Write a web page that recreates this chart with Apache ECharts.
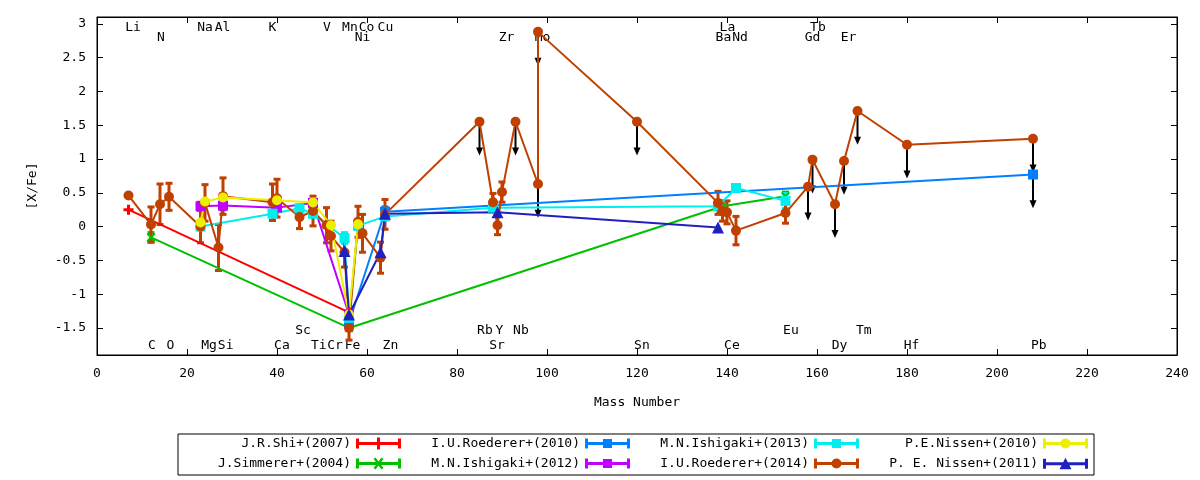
<!DOCTYPE html>
<html>
<head>
<meta charset="utf-8">
<title>[X/Fe] vs Mass Number</title>
<script src="https://cdn.jsdelivr.net/npm/echarts@6/dist/echarts.min.js"></script>
<style>
  html, body { margin: 0; padding: 0; background: #fff; }
  #chart { width: 1200px; height: 480px; }
</style>
</head>
<body>
<div id="chart"></div>
<script>
// values (x = mass number, y = [X/Fe], err = half error bar)
var shiX = [7, 56];
var shiY = [0.25, -1.27];
var shiErr = [0, 0];

var simX = [12, 56, 139, 153];
var simY = [-0.16, -1.50, 0.30, 0.45];
var simErr = [0.07, 0, 0, 0.06];

var r10X = [56, 64, 208];
var r10Y = [-1.42, 0.22, 0.77];
var r10Err = [0, 0.07, 0];
var r10Up = [0, 0, 1];

var i12X = [23, 28, 40, 48, 56];
var i12Y = [0.30, 0.31, 0.28, 0.35, -1.30];
var i12Err = [0.06, 0.06, 0.04, 0.05, 0];

var i13X = [23, 39, 45, 48, 55, 56, 58, 64, 88, 138, 142, 153];
var i13Y = [0.0, 0.19, 0.27, 0.19, -0.17, -1.35, 0.01, 0.15, 0.28, 0.30, 0.57, 0.38];
var i13Err = [0.05, 0, 0.05, 0.05, 0.08, 0, 0, 0.05, 0.03, 0.05, 0.05, 0.11];

var r14X = [7, 12, 14, 16, 23, 24, 27, 28, 39, 40, 45, 48, 51, 52, 55, 56, 58, 59, 63, 64,
            85, 88, 89, 90, 93, 98, 98, 120, 138, 139, 140, 142, 153, 158, 159, 164, 166, 169, 180, 208];
var r14Y = [0.46, 0.03, 0.33, 0.44, 0.0, 0.35, -0.31, 0.45, 0.36, 0.42, 0.14, 0.23, 0.02, -0.14, -0.38, -1.50, 0.07, -0.10, -0.46, 0.18,
            1.55, 0.36, 0.02, 0.51, 1.55, 0.63, 2.88, 1.55, 0.35, 0.23, 0.21, -0.06, 0.20, 0.59, 0.99, 0.33, 0.97, 1.71, 1.21, 1.30];
var r14Err = [0, 0.26, 0.30, 0.20, 0.24, 0.27, 0.34, 0.27, 0.27, 0.28, 0.17, 0.22, 0.26, 0.22, 0.22, 0.18, 0.23, 0.28, 0.23, 0.22,
              0, 0.13, 0.14, 0.15, 0, 0, 0, 0, 0.17, 0.15, 0.17, 0.21, 0.15, 0, 0, 0, 0, 0, 0, 0];
var r14Up = [0, 0, 0, 0, 0, 0, 0, 0, 0, 0, 0, 0, 0, 0, 0, 0, 0, 0, 0, 0,
             1, 0, 0, 0, 1, 1, 1, 1, 0, 0, 0, 0, 0, 1, 1, 1, 1, 1, 1, 1];

var n10X = [23, 24, 28, 40, 48, 52, 56, 58];
var n10Y = [0.06, 0.37, 0.43, 0.39, 0.355, 0.02, -1.30, 0.035];
var n10Err = [0, 0, 0, 0, 0, 0, 0, 0];

var n11X = [55, 56, 63, 64, 89, 138];
var n11Y = [-0.36, -1.30, -0.38, 0.19, 0.21, -0.015];
var n11Err = [0, 0, 0, 0, 0, 0];

// element names written on the plot
var labelNames = ['Li', 'Na', 'Al', 'K', 'V', 'Mn', 'Co', 'Cu', 'La', 'Tb',
                  'N', 'Ni', 'Zr', 'Mo', 'Ba', 'Nd', 'Gd', 'Er',
                  'Sc', 'Rb', 'Y', 'Nb', 'Eu', 'Tm',
                  'C', 'O', 'Mg', 'Si', 'Ca', 'Ti', 'Cr', 'Fe', 'Zn', 'Sr', 'Sn', 'Ce', 'Dy', 'Hf', 'Pb'];
var labelX = [8.0, 24.0, 27.9, 39.0, 51.1, 56.2, 59.9, 64.1, 140.1, 160.2,
              14.2, 59.0, 91.0, 99.0, 139.2, 142.9, 159.0, 167.0,
              45.8, 86.2, 89.4, 94.2, 154.2, 170.4,
              12.2, 16.3, 24.9, 28.6, 41.1, 49.3, 52.9, 56.8, 65.2, 88.9, 121.1, 141.1, 165.0, 181.0, 209.3];
var labelY = [2.945, 2.945, 2.945, 2.945, 2.945, 2.945, 2.945, 2.945, 2.945, 2.945,
              2.795, 2.795, 2.795, 2.795, 2.795, 2.795, 2.795, 2.795,
              -1.545, -1.545, -1.545, -1.545, -1.545, -1.545,
              -1.755, -1.755, -1.755, -1.755, -1.755, -1.755, -1.755, -1.755, -1.755, -1.755, -1.755, -1.755, -1.755, -1.755, -1.755];

var yTicks = [-1.5, -1, -0.5, 0, 0.5, 1, 1.5, 2, 2.5, 3];

var FONT = '"DejaVu Sans Mono", monospace';
var ARROW_LEN = 0.5; // length of the upper-limit arrows, in [X/Fe]

// plot markers
var SYM_PLUS = 'path://M3.5 0h3v10h-3z M0 3.5h10v3h-10z';
var SYM_X = 'path://M0 1.5L1.5 0L10 8.5L8.5 10Z M8.5 0L10 1.5L1.5 10L0 8.5Z';

// legend samples: line with end caps + marker in the middle (45x14 box)
var KEY_BAR = 'M0 5.5L45 5.5L45 8.5L0 8.5Z M0 2L3 2L3 12L0 12Z M42 2L45 2L45 12L42 12Z ';
var KEY_PLUS = 'path://' + KEY_BAR + 'M21 1L24 1L24 13L21 13Z';
var KEY_X = 'path://' + KEY_BAR + 'M17.5 2.5L19.5 1L27.5 11.5L25.5 13Z M25.5 1L27.5 2.5L19.5 13L17.5 11.5Z';
var KEY_SQ = 'path://' + KEY_BAR + 'M18 2.5L27 2.5L27 11.5L18 11.5Z';
var KEY_CIRC = 'path://' + KEY_BAR + 'M27.5 7A5 5 0 1 1 17.5 7A5 5 0 1 1 27.5 7Z';
var KEY_TRI = 'path://' + KEY_BAR + 'M22.5 1L28.5 12.5L16.5 12.5Z';

function pairs(xs, ys) {
  return xs.map(function (x, i) { return [x, ys[i]]; });
}
function triples(xs, ys, es) {
  return xs.map(function (x, i) { return [x, ys[i], es[i]]; });
}
function upperLimits(xs, ys, ups) {
  var out = [];
  xs.forEach(function (x, i) { if (ups[i]) out.push([x, ys[i]]); });
  return out;
}

// vertical error bar with caps
function renderErr(params, api) {
  var e = api.value(2);
  if (!e) return null;
  var x = api.value(0), y = api.value(1);
  var hi = api.coord([x, y + e]);
  var lo = api.coord([x, y - e]);
  var st = { stroke: api.visual('color'), lineWidth: 3 };
  var w = 3.5;
  return {
    type: 'group',
    children: [
      { type: 'line', shape: { x1: hi[0], y1: hi[1], x2: lo[0], y2: lo[1] }, style: st },
      { type: 'line', shape: { x1: hi[0] - w, y1: hi[1], x2: hi[0] + w, y2: hi[1] }, style: st },
      { type: 'line', shape: { x1: lo[0] - w, y1: lo[1], x2: lo[0] + w, y2: lo[1] }, style: st }
    ]
  };
}

// black downward arrow for upper limits
function renderArrow(params, api) {
  var x = api.value(0), y = api.value(1);
  var a = api.coord([x, y]);
  var b = api.coord([x, y - ARROW_LEN]);
  return {
    type: 'group',
    children: [
      { type: 'line', shape: { x1: a[0], y1: a[1], x2: b[0], y2: b[1] - 5 }, style: { stroke: '#000', lineWidth: 2 } },
      { type: 'polygon', shape: { points: [[b[0] - 3.5, b[1] - 8], [b[0] + 3.5, b[1] - 8], [b[0], b[1]]] }, style: { fill: '#000' } }
    ]
  };
}

function renderLabel(params, api) {
  var p = api.coord([api.value(0), api.value(1)]);
  return {
    type: 'text',
    x: p[0],
    y: p[1],
    style: {
      text: labelNames[params.dataIndex],
      fill: '#000',
      fontFamily: FONT,
      fontSize: 13,
      align: 'center',
      verticalAlign: 'middle'
    }
  };
}

// in plot order (later ones drawn on top)
var sets = [
  { name: 'J.R.Shi+(2007)', color: '#ff0000', symbol: SYM_PLUS, size: 10, x: shiX, y: shiY, err: shiErr, key: KEY_PLUS },
  { name: 'J.Simmerer+(2004)', color: '#00c000', symbol: SYM_X, size: 9, x: simX, y: simY, err: simErr, key: KEY_X },
  { name: 'I.U.Roederer+(2010)', color: '#0080ff', symbol: 'rect', size: 10, x: r10X, y: r10Y, err: r10Err, key: KEY_SQ },
  { name: 'M.N.Ishigaki+(2012)', color: '#c000ff', symbol: 'rect', size: 10, x: i12X, y: i12Y, err: i12Err, key: KEY_SQ },
  { name: 'M.N.Ishigaki+(2013)', color: '#00eeee', symbol: 'rect', size: 10, x: i13X, y: i13Y, err: i13Err, key: KEY_SQ },
  { name: 'I.U.Roederer+(2014)', color: '#c04000', symbol: 'circle', size: 10, x: r14X, y: r14Y, err: r14Err, key: KEY_CIRC },
  { name: 'P.E.Nissen+(2010)', color: '#eeee00', symbol: 'circle', size: 10, x: n10X, y: n10Y, err: n10Err, key: KEY_CIRC },
  { name: 'P. E. Nissen+(2011)', color: '#2020c0', symbol: 'triangle', size: 12, x: n11X, y: n11Y, err: n11Err, key: KEY_TRI }
];

var series = [];

series.push({
  type: 'custom',
  name: 'labels',
  renderItem: renderLabel,
  data: pairs(labelX, labelY),
  encode: { x: 0, y: 1 },
  silent: true
});

sets.forEach(function (s) {
  series.push({
    type: 'custom',
    name: s.name,
    renderItem: renderErr,
    itemStyle: { color: s.color },
    data: triples(s.x, s.y, s.err),
    encode: { x: 0, y: 1 },
    silent: true
  });
  series.push({
    type: 'line',
    name: s.name,
    data: pairs(s.x, s.y),
    symbol: s.symbol,
    symbolSize: s.size,
    showSymbol: true,
    showAllSymbol: true,
    lineStyle: { color: s.color, width: 2 },
    itemStyle: { color: s.color, borderWidth: 0 },
    emphasis: { disabled: true },
    silent: true
  });
});

series.push({
  type: 'custom',
  name: 'upper limits',
  renderItem: renderArrow,
  data: upperLimits(r14X, r14Y, r14Up).concat(upperLimits(r10X, r10Y, r10Up)),
  encode: { x: 0, y: 1 },
  silent: true
});

// gnuplot key: 4 columns x 2 rows, text right-aligned before the sample.
// one legend per entry, its right edge at the end of the sample
var keyRight = [799, 570, 341, 112];
var keyTop = [437, 457];
var legends = sets.map(function (s, i) {
  var col = Math.floor(i / 2), row = i % 2;
  return {
    orient: 'horizontal',
    right: keyRight[col],
    top: keyTop[row],
    padding: 0,
    itemWidth: 45,
    itemHeight: 14,
    align: 'right',
    selectedMode: false,
    itemStyle: { borderWidth: 0 },
    textStyle: { fontFamily: FONT, fontSize: 13, color: '#000' },
    data: [{ name: s.name, icon: s.key }]
  };
});

var chart = echarts.init(document.getElementById('chart'));
chart.setOption({
  animation: false,
  backgroundColor: '#fff',
  grid: {
    left: 97, right: 23, top: 17, bottom: 125,
    show: true, borderColor: '#000', borderWidth: 1
  },
  xAxis: [{
    type: 'value', min: 0, max: 240, interval: 20, position: 'bottom',
    name: 'Mass Number', nameLocation: 'middle', nameGap: 41,
    nameTextStyle: { fontFamily: FONT, fontSize: 13, color: '#000' },
    axisLine: { onZero: false, lineStyle: { color: '#000', width: 1 } },
    axisTick: { inside: true, length: 6, lineStyle: { color: '#000' } },
    axisLabel: { margin: 12, fontFamily: FONT, fontSize: 13, color: '#000' },
    splitLine: { show: false }
  }, {
    type: 'value', min: 0, max: 240, interval: 20, position: 'top',
    axisLine: { onZero: false, lineStyle: { color: '#000', width: 1 } },
    axisTick: { inside: true, length: 6, lineStyle: { color: '#000' } },
    axisLabel: { show: false },
    splitLine: { show: false }
  }],
  yAxis: [{
    type: 'value', min: -1.9, max: 3.1, position: 'left',
    name: '[X/Fe]', nameLocation: 'middle', nameGap: 58, nameRotate: 90,
    nameTextStyle: { fontFamily: FONT, fontSize: 13, color: '#000' },
    axisLine: { show: true, onZero: false, lineStyle: { color: '#000', width: 1 } },
    axisTick: { show: true, inside: true, length: 6, customValues: yTicks, lineStyle: { color: '#000' } },
    axisLabel: { margin: 11, fontFamily: FONT, fontSize: 13, color: '#000', customValues: yTicks },
    splitLine: { show: false }
  }, {
    type: 'value', min: -1.9, max: 3.1, position: 'right',
    axisLine: { show: true, onZero: false, lineStyle: { color: '#000', width: 1 } },
    axisTick: { show: true, inside: true, length: 6, customValues: yTicks, lineStyle: { color: '#000' } },
    axisLabel: { show: false },
    splitLine: { show: false }
  }],
  legend: legends,
  graphic: [{
    type: 'rect',
    shape: { x: 178, y: 434, width: 916, height: 41 },
    style: { fill: 'none', stroke: '#000', lineWidth: 1 },
    silent: true
  }],
  series: series
});
</script>
</body>
</html>
